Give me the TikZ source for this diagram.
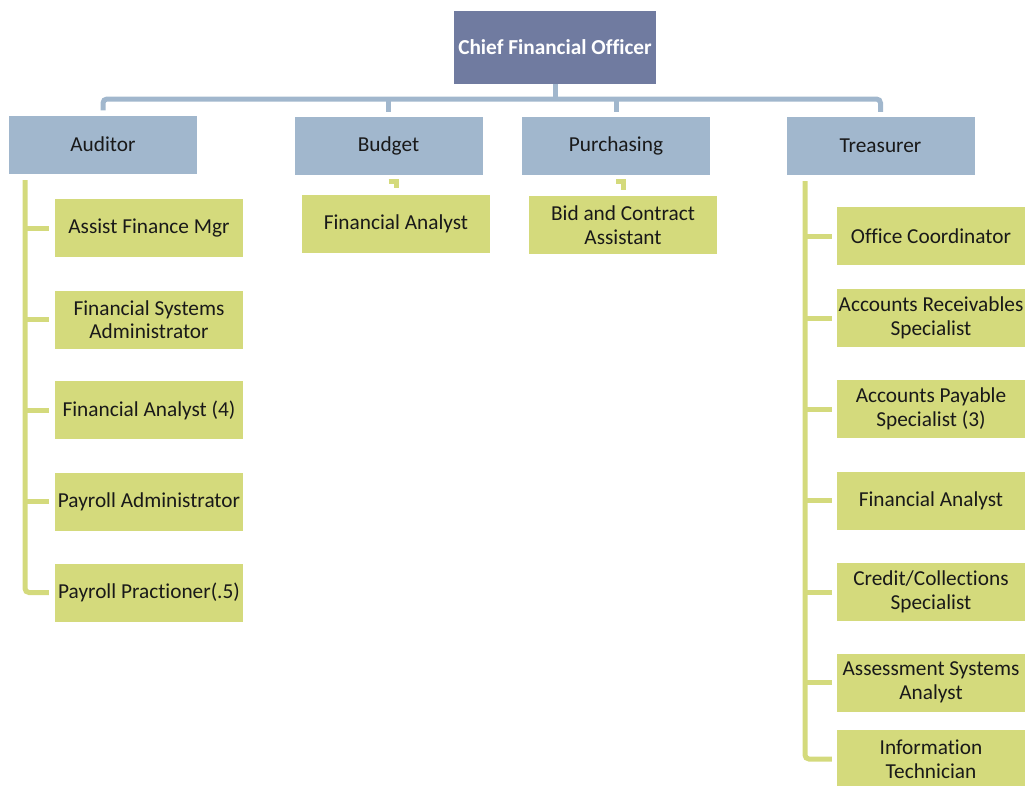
\documentclass[tikz,border=0pt]{standalone}
\usepackage{fontspec}
\setmainfont[Ligatures=NoCommon]{Carlito}
\usetikzlibrary{calc}
\definecolor{cfoblue}{RGB}{112,123,160}
\definecolor{deptblue}{RGB}{161,183,205}
\definecolor{staffgreen}{RGB}{212,218,124}
\tikzset{
    unit/.style={minimum width=188pt,minimum height=58pt,inner sep=0pt,align=center,
        font=\fontsize{21.3}{23.5}\selectfont,text=black!90},
    chief/.style={unit,fill=cfoblue,minimum width=202pt,minimum height=73pt,
        text=white,font=\fontsize{21.3}{23.5}\selectfont\bfseries},
    dept/.style={unit,fill=deptblue},
    staff/.style={unit,fill=staffgreen},
    bluelink/.style={draw=deptblue,line width=5pt,rounded corners=4pt},
    greenlink/.style={draw=staffgreen,line width=5pt,rounded corners=4pt}
}
\begin{document}
\begin{tikzpicture}[x=1pt,y=-1pt]
\useasboundingbox (0,0) rectangle (1026,785);
\node[chief] (cfo) at (555,47.5) {Chief Financial Officer};
\coordinate (bus) at (555,99);
\node[dept] (aud) at (103,144.5) {Auditor};
\node[dept] (bud) at (388.5,146) {Budget};
\node[dept] (pur) at (616,146) {Purchasing};
\node[dept] (tre) at (880.5,146) {Treasurer};
\draw[bluelink] ([yshift=5]aud.north) |- (bus) -| ([yshift=5]tre.north);
\draw[bluelink] (cfo.south) -- (bus);
\draw[bluelink] ([yshift=5]bud.north) -- (bud.north |- bus);
\draw[bluelink] ([yshift=5]pur.north) -- (pur.north |- bus);
\node[staff] (a1) at (149,228) {Assist Finance Mgr};
\node[staff] (a2) at (149,319.5) {Financial Systems\\Administrator};
\node[staff] (a3) at (149,410) {Financial Analyst (4)};
\node[staff] (a4) at (149,501.5) {Payroll Administrator};
\node[staff] (a5) at (149,592.5) {Payroll Practioner(.5)};
\coordinate (audtrunk) at (25,180);
\draw[greenlink] (audtrunk) |- ([xshift=-6]a5.west);
\foreach \k in {a1,a2,a3,a4}
  \draw[greenlink] (audtrunk |- \k.west) -- ([xshift=-6]\k.west);
\node[staff] (bfa) at (396,224) {Financial Analyst};
\draw[greenlink,rounded corners=0pt] ([yshift=-6]bud.south) -| ([yshift=7]bfa.north);
\node[staff] (bca) at (623,225) {Bid and Contract\\Assistant};
\draw[greenlink,rounded corners=0pt] ([yshift=-6]pur.south) -| ([yshift=6]bca.north);
\node[staff] (t1) at (931,236) {Office Coordinator};
\node[staff] (t2) at (931,318) {Accounts Receivables\\Specialist};
\node[staff] (t3) at (931,409) {Accounts Payable\\Specialist (3)};
\node[staff] (t4) at (931,500.5) {Financial Analyst};
\node[staff] (t5) at (931,592) {Credit/Collections\\Specialist};
\node[staff] (t6) at (931,682.5) {Assessment Systems\\Analyst};
\node[staff] (t7) at (931,759) {Information\\Technician};
\coordinate (tretrunk) at (805,181);
\draw[greenlink] (tretrunk) |- ([xshift=-5]t7.west);
\foreach \k in {t1,t2,t3,t4,t5,t6}
  \draw[greenlink] (tretrunk |- \k.west) -- ([xshift=-5]\k.west);
\end{tikzpicture}
\end{document}
